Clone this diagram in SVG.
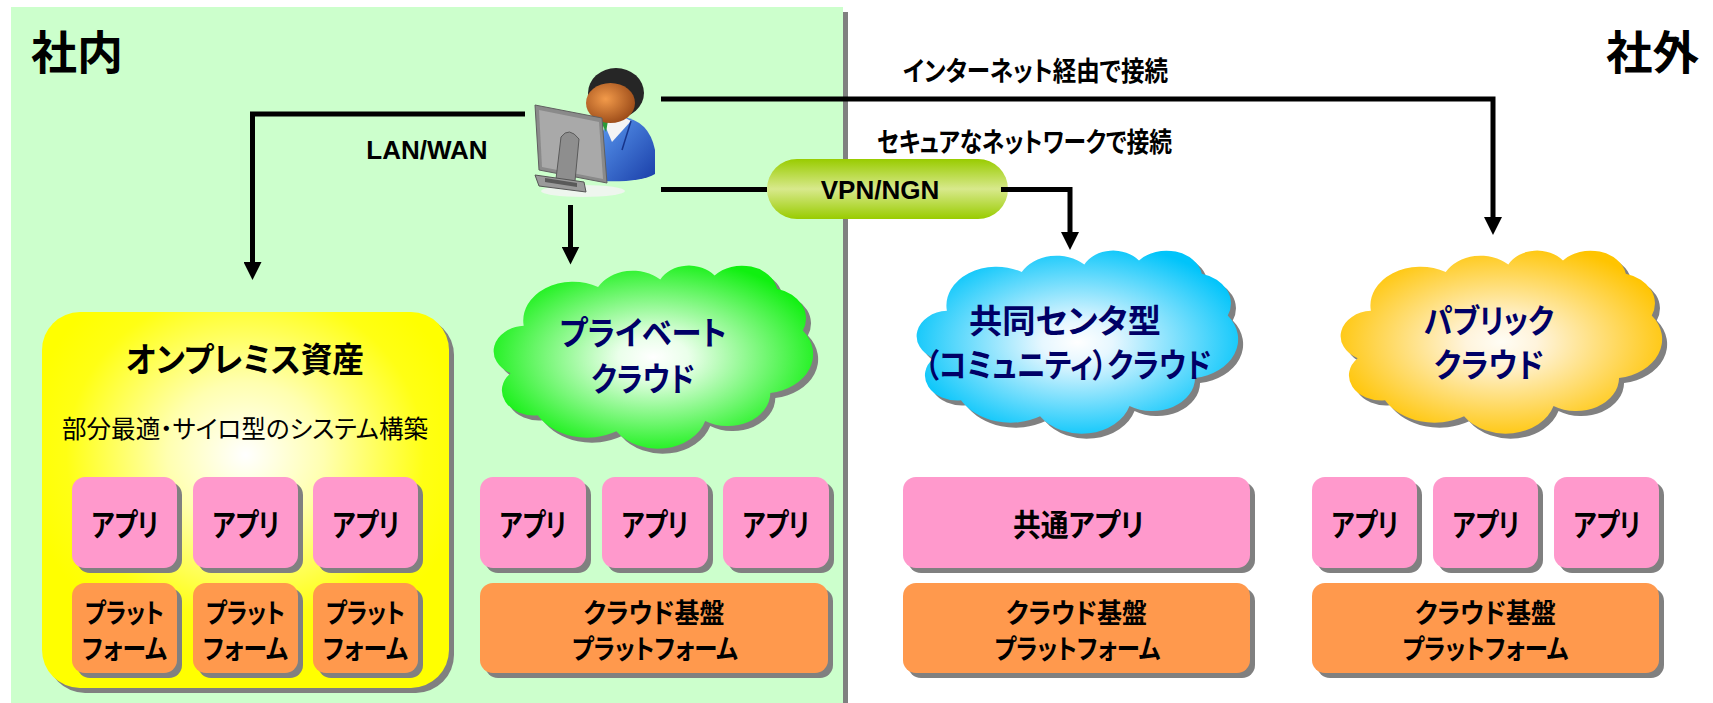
<svg xmlns="http://www.w3.org/2000/svg" width="1713" height="703" viewBox="0 0 1713 703">
  <style>
    .jp{font-family:"Noto Sans CJK JP","Noto Sans CJK SC",sans-serif;font-weight:bold;font-feature-settings:"palt";fill:#000;}
    .reg{font-weight:normal;}
    .lat{font-family:"Liberation Sans",Arial,sans-serif;font-weight:bold;fill:#000;}
    .navy{fill:#000066;}
    .sh{fill:#808080;}
    .app{fill:#ff99cc;}
    .plat{fill:#ff994d;}
    .mid{text-anchor:middle;}
    .conn{fill:none;stroke:#000;stroke-width:5;stroke-linejoin:miter;stroke-linecap:butt;}
    .tip{marker-end:url(#arrow);}
  </style>
  <defs>
    <!-- PowerPoint-style cloud outline in a 432 x 432 box -->
    <path id="cloud" d="M39,143.7 A67.53,91.9 0 0 1 140.05,52.02 A53.33,72.67 0 0 1 224.57,34.33 A43.65,59.45 0 0 1 298.35,24.84 A48.57,65.95 0 0 1 383.19,55.81 A53.33,72.73 0 0 1 418.19,154.65 A67.75,92.2 0 0 1 374.05,302.06 A57.85,78.67 0 0 1 285.57,368.17 A67.52,92.15 0 0 1 164.81,392.69 A77.2,105.43 0 0 1 58.05,354.72 A43.6,59.18 0 0 1 21.15,255.48 A43.45,59.45 0 0 1 39,143.7 Z"/>
    <radialGradient id="gGreen" cx="0.5" cy="0.5" r="0.55">
      <stop offset="0" stop-color="#ffffff"/>
      <stop offset="0.2" stop-color="#eaffea"/>
      <stop offset="1" stop-color="#10f010"/>
    </radialGradient>
    <radialGradient id="gBlue" cx="0.5" cy="0.5" r="0.55">
      <stop offset="0" stop-color="#ffffff"/>
      <stop offset="0.2" stop-color="#e6f7ff"/>
      <stop offset="1" stop-color="#00c4fa"/>
    </radialGradient>
    <radialGradient id="gGold" cx="0.5" cy="0.5" r="0.55">
      <stop offset="0" stop-color="#fffdf5"/>
      <stop offset="0.2" stop-color="#fff4dc"/>
      <stop offset="1" stop-color="#ffc400"/>
    </radialGradient>
    <radialGradient id="gOnprem" cx="0.5" cy="0.38" r="0.55">
      <stop offset="0" stop-color="#ffffff"/>
      <stop offset="0.35" stop-color="#ffffb0"/>
      <stop offset="0.8" stop-color="#ffff14"/>
      <stop offset="1" stop-color="#ffff00"/>
    </radialGradient>
    <linearGradient id="gPill" x1="0" y1="0" x2="0" y2="1">
      <stop offset="0" stop-color="#99cc00"/>
      <stop offset="0.5" stop-color="#d8e98c"/>
      <stop offset="1" stop-color="#99cc00"/>
    </linearGradient>
    <radialGradient id="gFace" cx="0.4" cy="0.4" r="0.65">
      <stop offset="0" stop-color="#f29a4a"/>
      <stop offset="1" stop-color="#9a4a18"/>
    </radialGradient>
    <linearGradient id="gSuit" x1="0" y1="0" x2="1" y2="1">
      <stop offset="0" stop-color="#5c9cf2"/>
      <stop offset="1" stop-color="#1a3ea8"/>
    </linearGradient>
    <marker id="arrow" markerUnits="userSpaceOnUse" markerWidth="18" markerHeight="18" viewBox="0 0 18 18" refX="6" refY="9" orient="auto">
      <path d="M0,0 L18,9 L0,18 Z" fill="#000"/>
    </marker>
  </defs>

  <!-- page -->
  <rect width="1713" height="703" fill="#ffffff"/>

  <!-- in-house zone -->
  <g id="zone-inhouse">
    <rect class="sh" x="16" y="12" width="832" height="700"/>
    <rect x="11" y="7" width="832" height="700" fill="#ccffcc"/>
    <text class="jp" x="31" y="69" font-size="46" textLength="92" lengthAdjust="spacingAndGlyphs">社内</text>
  </g>
  <g id="zone-external">
    <text class="jp" x="1606" y="69" font-size="46" textLength="93" lengthAdjust="spacingAndGlyphs">社外</text>
  </g>

  <!-- user at workstation -->
  <g id="user">
    <ellipse cx="583" cy="191" rx="42" ry="6" fill="#eef6ee"/>
    <path d="M597,181 L597,150 Q600,123 622,117 Q649,120 655,150 L655,174 Q640,183 597,181 Z" fill="url(#gSuit)"/>
    <path d="M603,121 L622,116 L631,121 L612,142 Z" fill="#f4f4f4"/>
    <path d="M601,122 L608,121 L606,132 Z" fill="#2a9a3a"/>
    <path d="M631,121 L622,150" stroke="#17348a" stroke-width="1.5" fill="none"/>
    <ellipse cx="616" cy="93" rx="28" ry="25" fill="#262626"/>
    <ellipse cx="610.5" cy="103" rx="24.5" ry="20" fill="url(#gFace)"/>
    <!-- monitor seen from behind -->
    <path d="M535,105 L602,118 L607,183 L539,170 Z" fill="#8a8a8a" stroke="#606060" stroke-width="1"/>
    <path d="M539,110 L599,122 L603,179 L542,167 Z" fill="#a9a9a9"/>
    <path d="M561,137 Q569,126 579,139 L575,181 L556,179 Z" fill="#8e8e8e" stroke="#5a5a5a" stroke-width="1"/>
    <path d="M535,175 L584,182 L586,192 L539,186 Z" fill="#9a9a9a" stroke="#555" stroke-width="1"/>
    <path d="M545,178 L577,183 L577,187 L545,182 Z" fill="#5a5a5a"/>
  </g>

  <!-- on-premises assets -->
  <g id="onprem">
    <rect class="sh" x="47" y="317" width="407" height="376" rx="38"/>
    <rect x="42" y="312" width="407" height="376" rx="38" fill="url(#gOnprem)"/>
    <text class="jp mid" x="245" y="372" font-size="34" textLength="238" lengthAdjust="spacingAndGlyphs">オンプレミス資産</text>
    <text class="jp reg mid" x="245" y="438" font-size="25" textLength="366" lengthAdjust="spacingAndGlyphs">部分最適・サイロ型のシステム構築</text>
  </g>
  <g id="onprem-app1">
    <rect class="sh" x="77" y="482" width="105" height="91" rx="13"/>
    <rect class="app" x="72" y="477" width="105" height="91" rx="13"/>
    <text class="jp mid" x="125" y="536" font-size="31" textLength="67" lengthAdjust="spacingAndGlyphs">アプリ</text>
  </g>
  <g id="onprem-app2">
    <rect class="sh" x="198" y="482" width="105" height="91" rx="13"/>
    <rect class="app" x="193" y="477" width="105" height="91" rx="13"/>
    <text class="jp mid" x="246" y="536" font-size="31" textLength="67" lengthAdjust="spacingAndGlyphs">アプリ</text>
  </g>
  <g id="onprem-app3">
    <rect class="sh" x="318" y="482" width="105" height="91" rx="13"/>
    <rect class="app" x="313" y="477" width="105" height="91" rx="13"/>
    <text class="jp mid" x="366" y="536" font-size="31" textLength="67" lengthAdjust="spacingAndGlyphs">アプリ</text>
  </g>
  <g id="onprem-plat1">
    <rect class="sh" x="77" y="588" width="105" height="90" rx="13"/>
    <rect class="plat" x="72" y="583" width="105" height="90" rx="13"/>
    <text class="jp mid" x="124.5" y="623" font-size="27" textLength="79" lengthAdjust="spacingAndGlyphs">プラット</text>
    <text class="jp mid" x="124.5" y="659" font-size="27" textLength="85" lengthAdjust="spacingAndGlyphs">フォーム</text>
  </g>
  <g id="onprem-plat2">
    <rect class="sh" x="198" y="588" width="105" height="90" rx="13"/>
    <rect class="plat" x="193" y="583" width="105" height="90" rx="13"/>
    <text class="jp mid" x="245.5" y="623" font-size="27" textLength="79" lengthAdjust="spacingAndGlyphs">プラット</text>
    <text class="jp mid" x="245.5" y="659" font-size="27" textLength="85" lengthAdjust="spacingAndGlyphs">フォーム</text>
  </g>
  <g id="onprem-plat3">
    <rect class="sh" x="318" y="588" width="105" height="90" rx="13"/>
    <rect class="plat" x="313" y="583" width="105" height="90" rx="13"/>
    <text class="jp mid" x="365.5" y="623" font-size="27" textLength="79" lengthAdjust="spacingAndGlyphs">プラット</text>
    <text class="jp mid" x="365.5" y="659" font-size="27" textLength="85" lengthAdjust="spacingAndGlyphs">フォーム</text>
  </g>

  <!-- private cloud -->
  <g id="private-cloud">
    <use href="#cloud" class="sh" transform="translate(500,270) scale(0.7361,0.4236)"/>
    <use href="#cloud" fill="url(#gGreen)" transform="translate(495,265) scale(0.7361,0.4236)"/>
    <text class="jp navy mid" x="643" y="345" font-size="33" textLength="167" lengthAdjust="spacingAndGlyphs">プライベート</text>
    <text class="jp navy mid" x="643" y="391" font-size="33" textLength="104" lengthAdjust="spacingAndGlyphs">クラウド</text>
  </g>
  <g id="private-app1">
    <rect class="sh" x="485" y="482" width="106" height="91" rx="13"/>
    <rect class="app" x="480" y="477" width="106" height="91" rx="13"/>
    <text class="jp mid" x="533" y="536" font-size="31" textLength="67" lengthAdjust="spacingAndGlyphs">アプリ</text>
  </g>
  <g id="private-app2">
    <rect class="sh" x="607" y="482" width="106" height="91" rx="13"/>
    <rect class="app" x="602" y="477" width="106" height="91" rx="13"/>
    <text class="jp mid" x="655" y="536" font-size="31" textLength="67" lengthAdjust="spacingAndGlyphs">アプリ</text>
  </g>
  <g id="private-app3">
    <rect class="sh" x="728" y="482" width="106" height="91" rx="13"/>
    <rect class="app" x="723" y="477" width="106" height="91" rx="13"/>
    <text class="jp mid" x="776" y="536" font-size="31" textLength="67" lengthAdjust="spacingAndGlyphs">アプリ</text>
  </g>
  <g id="private-platform">
    <rect class="sh" x="485" y="588" width="348" height="90" rx="13"/>
    <rect class="plat" x="480" y="583" width="348" height="90" rx="13"/>
    <text class="jp mid" x="654" y="623" font-size="27" textLength="141" lengthAdjust="spacingAndGlyphs">クラウド基盤</text>
    <text class="jp mid" x="655" y="659" font-size="27" textLength="166" lengthAdjust="spacingAndGlyphs">プラットフォーム</text>
  </g>

  <!-- VPN / NGN link -->
  <g id="vpn">
    <rect x="767" y="159" width="241" height="60" rx="30" fill="url(#gPill)"/>
    <text class="lat mid" x="880" y="199" font-size="26">VPN/NGN</text>
  </g>

  <!-- community cloud -->
  <g id="community-cloud">
    <use href="#cloud" class="sh" transform="translate(923,255) scale(0.7407,0.4236)"/>
    <use href="#cloud" fill="url(#gBlue)" transform="translate(918,250) scale(0.7407,0.4236)"/>
    <text class="jp navy mid" x="1065" y="333" font-size="33" textLength="192" lengthAdjust="spacingAndGlyphs">共同センタ型</text>
    <text class="jp navy mid" x="1068" y="377" font-size="33" textLength="287" lengthAdjust="spacingAndGlyphs">（コミュニティ）クラウド</text>
  </g>
  <g id="community-app">
    <rect class="sh" x="908" y="482" width="347" height="91" rx="13"/>
    <rect class="app" x="903" y="477" width="347" height="91" rx="13"/>
    <text class="jp mid" x="1078.5" y="536" font-size="31" textLength="131" lengthAdjust="spacingAndGlyphs">共通アプリ</text>
  </g>
  <g id="community-platform">
    <rect class="sh" x="908" y="588" width="347" height="90" rx="13"/>
    <rect class="plat" x="903" y="583" width="347" height="90" rx="13"/>
    <text class="jp mid" x="1076.5" y="623" font-size="27" textLength="141" lengthAdjust="spacingAndGlyphs">クラウド基盤</text>
    <text class="jp mid" x="1077.5" y="659" font-size="27" textLength="166" lengthAdjust="spacingAndGlyphs">プラットフォーム</text>
  </g>

  <!-- public cloud -->
  <g id="public-cloud">
    <use href="#cloud" class="sh" transform="translate(1347,255) scale(0.7407,0.4236)"/>
    <use href="#cloud" fill="url(#gGold)" transform="translate(1342,250) scale(0.7407,0.4236)"/>
    <text class="jp navy mid" x="1489" y="333" font-size="33" textLength="130" lengthAdjust="spacingAndGlyphs">パブリック</text>
    <text class="jp navy mid" x="1489" y="377" font-size="33" textLength="110" lengthAdjust="spacingAndGlyphs">クラウド</text>
  </g>
  <g id="public-app1">
    <rect class="sh" x="1317" y="482" width="105" height="91" rx="13"/>
    <rect class="app" x="1312" y="477" width="105" height="91" rx="13"/>
    <text class="jp mid" x="1365" y="536" font-size="31" textLength="67" lengthAdjust="spacingAndGlyphs">アプリ</text>
  </g>
  <g id="public-app2">
    <rect class="sh" x="1438" y="482" width="105" height="91" rx="13"/>
    <rect class="app" x="1433" y="477" width="105" height="91" rx="13"/>
    <text class="jp mid" x="1486" y="536" font-size="31" textLength="67" lengthAdjust="spacingAndGlyphs">アプリ</text>
  </g>
  <g id="public-app3">
    <rect class="sh" x="1559" y="482" width="105" height="91" rx="13"/>
    <rect class="app" x="1554" y="477" width="105" height="91" rx="13"/>
    <text class="jp mid" x="1607" y="536" font-size="31" textLength="67" lengthAdjust="spacingAndGlyphs">アプリ</text>
  </g>
  <g id="public-platform">
    <rect class="sh" x="1317" y="588" width="347" height="90" rx="13"/>
    <rect class="plat" x="1312" y="583" width="347" height="90" rx="13"/>
    <text class="jp mid" x="1485.5" y="623" font-size="27" textLength="141" lengthAdjust="spacingAndGlyphs">クラウド基盤</text>
    <text class="jp mid" x="1485.5" y="659" font-size="27" textLength="166" lengthAdjust="spacingAndGlyphs">プラットフォーム</text>
  </g>

  <!-- connectors and their labels -->
  <g id="connectors">
    <polyline class="conn tip" points="525,114 252.5,114 252.5,268"/>
    <polyline class="conn tip" points="661,99 1493,99 1493,223"/>
    <polyline class="conn tip" points="570.5,205 570.5,252.5"/>
    <polyline class="conn" points="661,189.5 767,189.5"/>
    <polyline class="conn tip" points="1001,189.5 1070,189.5 1070,238"/>
    <text class="lat mid" x="427" y="158.5" font-size="26">LAN/WAN</text>
    <text class="jp" x="903" y="81" font-size="27" textLength="265" lengthAdjust="spacingAndGlyphs">インターネット経由で接続</text>
    <text class="jp" x="877" y="152" font-size="27" textLength="295" lengthAdjust="spacingAndGlyphs">セキュアなネットワークで接続</text>
  </g>
</svg>
